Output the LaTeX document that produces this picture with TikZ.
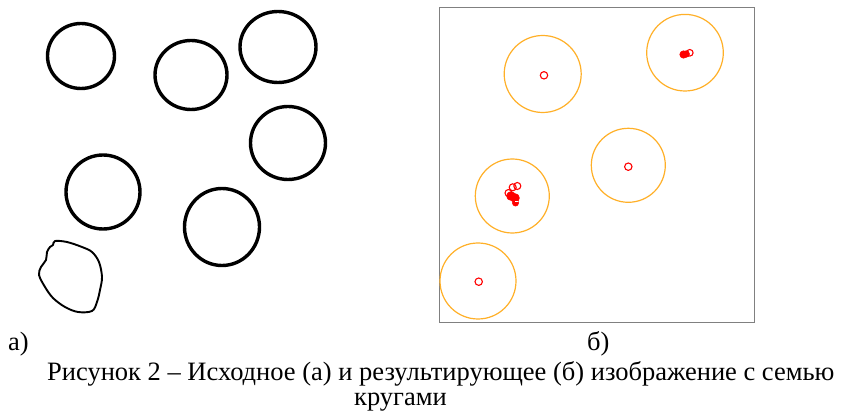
\documentclass[tikz,border=0pt]{standalone}
\usepackage{fontspec}
\setmainfont{Liberation Serif}
\definecolor{ringorange}{RGB}{255,176,40}
\definecolor{framegray}{RGB}{128,128,128}
\tikzset{
  srcring/.style={draw=black, line width=3.4pt},
  srcblob/.style={draw=black, line width=1.9pt, line join=round},
  foundring/.style={draw=ringorange, line width=1.2pt},
  centremark/.style={draw=red, line width=1.1pt},
  centrefill/.style={fill=red, draw=red, line width=0.8pt},
  frame/.style={draw=framegray, line width=1.3pt},
  lbl/.style={font=\fontsize{26.5}{26.5}\selectfont, inner sep=0pt, anchor=base west},
}
\begin{document}
\begin{tikzpicture}[x=1pt,y=-1pt]
\useasboundingbox (0,0) rectangle (844,414);
\fill[white] (0,0) rectangle (844,414);
% left panel: source image
\draw[srcring] (81,56) ellipse [x radius=33.5, y radius=32.5];
\draw[srcring] (191,75) ellipse [x radius=36, y radius=34.5];
\draw[srcring] (278,47) ellipse [x radius=38, y radius=35.5];
\draw[srcring] (288,143) ellipse [x radius=37.5, y radius=36.5];
\draw[srcring] (103,192) ellipse [x radius=37, y radius=37];
\draw[srcring] (222,227) ellipse [x radius=37.5, y radius=38.5];
\draw[srcblob] plot[smooth cycle, tension=0.55] coordinates {
  (55,241) (67,242) (82,247) (92,252) (99,262) (102,277) (100,290)
  (97,302) (92,311) (78,312) (65,307) (53,298) (45,287) (39,275)
  (41,267) (46,260) (47,252) (50,247) (53,245)};
% right panel: result
\draw[frame] (439.3,7.3) rectangle (754.3,322.3);
\draw[foundring] (542.7,74) circle [radius=38.5];
\draw[foundring] (685,52.7) circle [radius=38.3];
\draw[foundring] (628.3,165.3) circle [radius=37];
\draw[foundring] (512.3,196) circle [radius=37];
\draw[foundring] (478,281) circle [radius=38];
\draw[centremark] (544,75.3) circle [radius=3.7];
\draw[centremark] (628.3,166.7) circle [radius=3.7];
\draw[centremark] (478.7,281.7) circle [radius=3.7];
% cluster top right
\draw[centrefill] (683.5,54.5) circle [radius=3.6];
\draw[centrefill] (686.2,54) circle [radius=3.2];
\draw[centremark] (689.8,52.8) circle [radius=3.3];
% cluster lower left
\draw[centremark] (512.7,187.3) circle [radius=3.5];
\draw[centremark] (517.3,186) circle [radius=3.5];
\draw[centremark] (508.5,193) circle [radius=3.5];
\draw[centrefill] (511,196) circle [radius=4.3];
\draw[centrefill] (515,198) circle [radius=4.3];
\draw[centrefill] (515.5,203) circle [radius=3];
\fill[white] (515.2,200.8) rectangle (518.4,202.2);
% labels
\node[lbl] (la) at (8,350) {а)};
\node[lbl] (lb) at (587,350) {б)};
\node[lbl] (cap1) at (47,380) {Рисунок 2 – Исходное (а) и результирующее (б) изображение с семью};
\node[lbl] (cap2) at (354,405) {кругами};
\end{tikzpicture}
\end{document}
